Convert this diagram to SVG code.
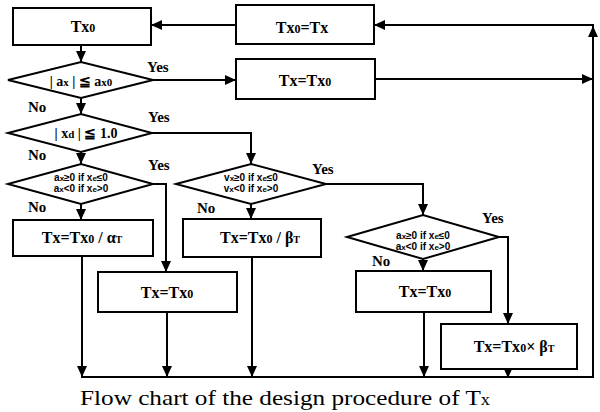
<svg xmlns="http://www.w3.org/2000/svg" width="600" height="412" viewBox="0 0 600 412">
<defs>
<marker id="ah" markerUnits="userSpaceOnUse" markerWidth="12" markerHeight="10" refX="11" refY="5" orient="auto">
<path d="M0,0 L11,5 L0,10 z" fill="#000"/>
</marker>
<style>
.box{fill:#fff;stroke:#000;stroke-width:2}
.dia{fill:#fff;stroke:#000;stroke-width:2}
.ln{fill:none;stroke:#000;stroke-width:2}
.ar{fill:none;stroke:#000;stroke-width:2;marker-end:url(#ah)}
.t{font-family:"Liberation Serif","DejaVu Serif",serif;font-weight:bold;font-size:16px;fill:#000;text-anchor:middle}
.lb{font-family:"Liberation Serif","DejaVu Serif",serif;font-weight:bold;font-size:15px;fill:#000}
.c{font-family:"Liberation Serif","DejaVu Serif",serif;font-weight:bold;font-size:14px;fill:#000;text-anchor:middle}
.s{font-family:"Liberation Sans Narrow","Liberation Sans","DejaVu Sans",sans-serif;font-weight:bold;font-size:10px;fill:#000;text-anchor:middle}
.cap{font-family:"Liberation Serif","DejaVu Serif",serif;font-size:22px;fill:#000}
</style>
</defs>
<g id="connectors">
<path class="ar" d="M81,45 V62"/>
<path class="ar" d="M81,98 V114"/>
<path class="ar" d="M81,152 V164"/>
<path class="ar" d="M81,204 V220"/>
<path class="ar" d="M82,256 V377"/>
<path class="ar" d="M153,80 H236"/>
<path class="ar" d="M375,79 H593"/>
<path class="ar" d="M593,377 V25 H374"/>
<path class="ar" d="M593,60 V26"/>
<path class="ar" d="M236,25 H151"/>
<path class="ar" d="M152,133 H251 V164"/>
<path class="ar" d="M153,184 H166 V272"/>
<path class="ar" d="M167,312 V377"/>
<path class="ar" d="M251,204 V219"/>
<path class="ar" d="M252,257 V377"/>
<path class="ar" d="M326,184 H423 V215"/>
<path class="ar" d="M423,259 V271"/>
<path class="ar" d="M424,312 V377"/>
<path class="ar" d="M499,237 H508 V324"/>
<path class="ar" d="M508,369 V378"/>
<path class="ln" d="M81,377 H594"/>
</g>
<g id="n_tx0">
<rect class="box" x="13" y="8" width="138" height="37"/>
<text class="t" x="83" y="32">Tx<tspan font-size="12">0</tspan></text>
</g>
<g id="n_tx0_eq_tx">
<rect class="box" x="236" y="5" width="138" height="39"/>
<text class="t" x="302" y="33">Tx<tspan font-size="12">0</tspan>=Tx</text>
</g>
<g id="d1">
<polygon class="dia" points="8,80 81,62 153,80 81,98"/>
<text class="c" x="81" y="86">| a<tspan font-size="11">x</tspan> | ≦ a<tspan font-size="11">x0</tspan></text>
<text class="lb" x="147" y="72">Yes</text>
<text class="lb" x="28" y="112">No</text>
</g>
<g id="n_tx_eq_tx0_top">
<rect class="box" x="236" y="59" width="139" height="40"/>
<text class="t" x="305" y="86">Tx=Tx<tspan font-size="12">0</tspan></text>
</g>
<g id="d2">
<polygon class="dia" points="8,133 81,114 152,133 81,152"/>
<text class="c" x="86" y="138">| x<tspan font-size="11">d</tspan> | ≦ 1.0</text>
<text class="lb" x="148" y="122">Yes</text>
<text class="lb" x="28" y="160">No</text>
</g>
<g id="d3">
<polygon class="dia" points="8,184 81,164 153,184 81,204"/>
<text class="s" x="81" y="181">a<tspan font-size="8">x</tspan>≥0 if x<tspan font-size="8">e</tspan>≤0</text>
<text class="s" x="81" y="192">a<tspan font-size="8">x</tspan>&lt;0 if x<tspan font-size="8">e</tspan>&gt;0</text>
<text class="lb" x="148" y="170">Yes</text>
<text class="lb" x="28" y="212">No</text>
</g>
<g id="d4">
<polygon class="dia" points="176,184 251,164 326,184 251,204"/>
<text class="s" x="251" y="181">v<tspan font-size="8">x</tspan>≥0 if x<tspan font-size="8">e</tspan>≤0</text>
<text class="s" x="251" y="192">v<tspan font-size="8">x</tspan>&lt;0 if x<tspan font-size="8">e</tspan>&gt;0</text>
<text class="lb" x="312" y="174">Yes</text>
<text class="lb" x="197" y="213">No</text>
</g>
<g id="d5">
<polygon class="dia" points="347,237 423,215 499,237 423,259"/>
<text class="s" x="423" y="239">a<tspan font-size="8">x</tspan>≥0 if x<tspan font-size="8">e</tspan>≤0</text>
<text class="s" x="423" y="250">a<tspan font-size="8">x</tspan>&lt;0 if x<tspan font-size="8">e</tspan>&gt;0</text>
<text class="lb" x="482" y="223">Yes</text>
<text class="lb" x="372" y="266">No</text>
</g>
<g id="n_alpha">
<rect class="box" x="13" y="220" width="140" height="36"/>
<text class="t" x="82" y="243">Tx=Tx<tspan font-size="12">0</tspan> / α<tspan font-size="10">T</tspan></text>
</g>
<g id="n_beta">
<rect class="box" x="183" y="219" width="138" height="38"/>
<text class="t" x="260" y="243">Tx=Tx<tspan font-size="12">0</tspan> / β<tspan font-size="10">T</tspan></text>
</g>
<g id="n_mid">
<rect class="box" x="98" y="272" width="139" height="40"/>
<text class="t" x="167" y="298">Tx=Tx<tspan font-size="12">0</tspan></text>
</g>
<g id="n_right">
<rect class="box" x="356" y="271" width="135" height="41"/>
<text class="t" x="425" y="297">Tx=Tx<tspan font-size="12">0</tspan></text>
</g>
<g id="n_times_beta">
<rect class="box" x="441" y="324" width="136" height="45"/>
<text class="t" x="514" y="352">Tx=Tx<tspan font-size="12">0</tspan>× β<tspan font-size="10">T</tspan></text>
</g>
<text class="cap" x="80" y="405" textLength="410" lengthAdjust="spacingAndGlyphs">Flow chart of the design procedure of T<tspan font-size="16">x</tspan></text>
</svg>
